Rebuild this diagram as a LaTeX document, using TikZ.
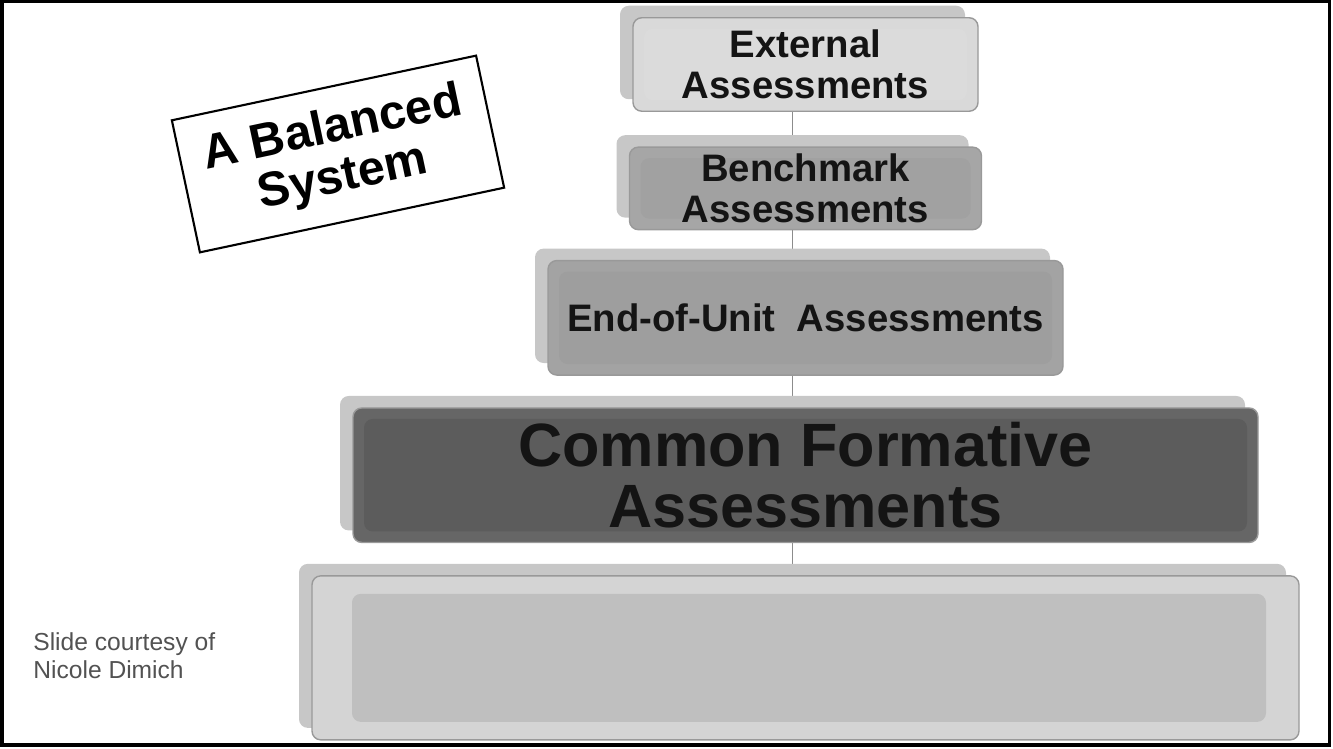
\documentclass[tikz,border=0pt]{standalone}
\usepackage{fontspec}
\setmainfont{Liberation Sans}
\usetikzlibrary{positioning,shadows,backgrounds}
\tikzstyle{tier} = [rectangle, rounded corners=5pt, draw=black!40, line width=0.8pt, align=center, inner sep=2pt, text=black!92, font=\bfseries\fontsize{21.8}{23.5}\selectfont, copy shadow={shadow xshift=-0.26cm, shadow yshift=0.24cm, fill=black!22, draw=none}]
\tikzstyle{line} = [draw, black!45, line width=1pt]
\tikzstyle{badge} = [rectangle, draw, line width=1.2pt, fill=white, align=center, font=\bfseries\fontsize{27.5}{28.5}\selectfont, minimum width=6.22cm, minimum height=2.7cm, rotate=12]
\tikzstyle{note} = [align=left, inner sep=0pt, text=black!68, font=\fontsize{14}{16}\selectfont]
\tikzset{panel/.style 2 args={fill=#1, path picture={\fill[#2] ([shift={(0.22,-0.22)}]path picture bounding box.north west) rectangle ([shift={(-0.22,0.22)}]path picture bounding box.south east);}}}

\begin{document}
\begin{tikzpicture}[node distance = 0.66cm, auto]
    \useasboundingbox (0,0) rectangle (26.66,14.98);
    \draw [line width=2.2pt] (0.04,0.08) rectangle (26.59,14.95);
    % Blocks
    \node [tier, panel={black!15}{black!14}, minimum width=6.9cm, minimum height=1.87cm] (ext) at (16.11,13.69)
    {External\\Assessments};
    \node [tier, panel={black!35}{black!37}, minimum width=7.04cm, minimum height=1.65cm, below=0.69cm of ext] (bench)
    {Benchmark\\Assessments};
    \node [tier, panel={black!36}{black!38}, minimum width=10.3cm, minimum height=2.29cm, below=0.59cm of bench] (unit)
    {End-of-Unit~~Assessments};
    \node [tier, panel={black!60}{black!64}, minimum width=18.1cm, minimum height=2.69cm, below=0.63cm of unit,
      font=\bfseries\fontsize{34.8}{35}\selectfont] (cfa)
    {Common Formative\\Assessments};
    \node [tier, fill=black!17, minimum width=19.74cm, minimum height=3.28cm, below=0.64cm of cfa,
      path picture={\fill[black!25] ([shift={(0.8,-0.36)}]path picture bounding box.north west) rectangle ([shift={(-0.66,0.36)}]path picture bounding box.south east);}] (base)
    {};
    % Labels
    \node [badge] (title) at (6.76,11.90) {A Balanced\\System};
    \node [note, anchor=north west] (credit) at (0.66,2.34) {Slide courtesy of\\Nicole Dimich};
    % Lines
    \begin{scope}[on background layer]
      \path [line] ([xshift=-0.26cm]ext.south) -- ([xshift=-0.26cm]bench.north);
      \path [line] ([xshift=-0.26cm]bench.south) -- ([xshift=-0.26cm]unit.north);
      \path [line] ([xshift=-0.26cm]unit.south) -- ([xshift=-0.26cm]cfa.north);
      \path [line] ([xshift=-0.26cm]cfa.south) -- ([xshift=-0.26cm]base.north);
    \end{scope}
\end{tikzpicture}
\end{document}
